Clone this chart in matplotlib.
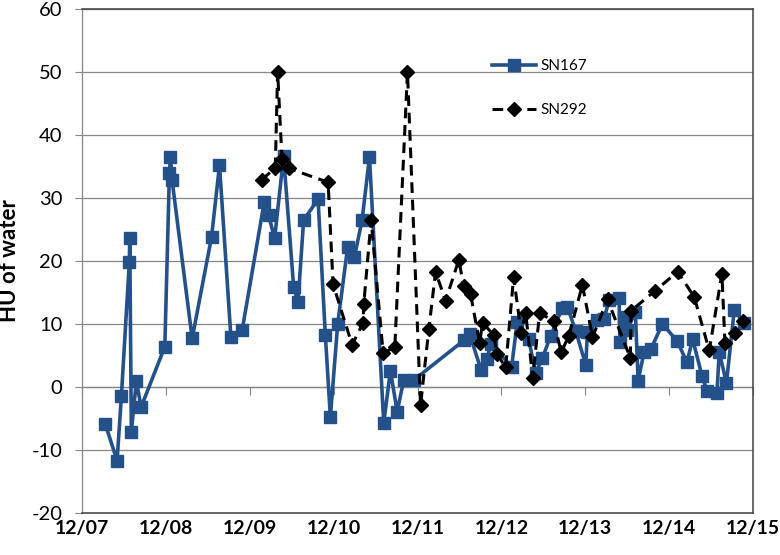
import numpy as np
import matplotlib
matplotlib.use('Agg')
import matplotlib.pyplot as plt

plt.rcParams['font.family'] = ['Lato', 'DejaVu Sans']
plt.rcParams['axes.unicode_minus'] = False

# decimal years
t167 = [2008.195, 2008.335, 2008.386, 2008.481, 2008.486, 2008.505, 2008.565, 2008.621,
        2008.904, 2008.959, 2008.971, 2008.991, 2009.230, 2009.461, 2009.556, 2009.692,
        2009.827, 2010.090, 2010.141, 2010.213, 2010.320, 2010.440, 2010.492, 2010.559,
        2010.731, 2010.818, 2010.878, 2010.965, 2011.084, 2011.164, 2011.256, 2011.344,
        2011.514, 2011.594, 2011.674, 2011.753, 2011.872, 2012.470, 2012.538, 2012.675,
        2012.749, 2012.788, 2013.039, 2013.105, 2013.242, 2013.326, 2013.405, 2013.505,
        2013.644, 2013.704, 2013.803, 2013.923, 2013.943, 2014.054, 2014.141, 2014.201,
        2014.320, 2014.329, 2014.380, 2014.412, 2014.514, 2014.547, 2014.619, 2014.699,
        2014.836, 2015.013, 2015.129, 2015.197, 2015.310, 2015.371, 2015.487, 2015.514,
        2015.600, 2015.694, 2015.813]
hu167 = [-5.9, -11.7, -1.5, 19.8, 23.6, -7.1, 1.0, -3.2,
         6.4, 34.0, 36.5, 32.8, 7.7, 23.8, 35.2, 7.9,
         9.1, 29.4, 27.3, 23.6, 36.6, 15.9, 13.5, 26.5,
         29.8, 8.2, -4.8, 10.0, 22.2, 20.6, 26.5, 36.5,
         -5.7, 2.6, -3.9, 1.1, 1.1, 7.4, 8.4, 2.7,
         4.5, 6.9, 3.2, 10.3, 7.6, 2.2, 4.6, 8.1,
         12.6, 12.7, 8.9, 3.5, 8.8, 10.7, 10.8, 13.8,
         14.2, 7.1, 11.1, 9.0, 11.9, 1.0, 5.6, 6.0,
         10.0, 7.3, 3.9, 7.6, 1.7, -0.7, -1.0, 5.6,
         0.6, 12.3, 10.1]

t292 = [2010.062, 2010.221, 2010.249, 2010.301, 2010.380, 2010.851, 2010.910, 2011.137,
        2011.268, 2011.276, 2011.364, 2011.507, 2011.646, 2011.797, 2011.953, 2012.052,
        2012.132, 2012.251, 2012.410, 2012.466, 2012.550, 2012.657, 2012.693, 2012.828,
        2012.860, 2012.968, 2013.063, 2013.153, 2013.206, 2013.290, 2013.373, 2013.541,
        2013.630, 2013.720, 2013.883, 2014.003, 2014.182, 2014.454, 2014.463, 2014.743,
        2015.018, 2015.216, 2015.395, 2015.546, 2015.582, 2015.698, 2015.803]
hu292 = [32.9, 34.8, 50.0, 36.2, 34.7, 32.5, 16.3, 6.7,
         10.2, 13.2, 26.5, 5.4, 6.3, 50.0, -2.9, 9.2,
         18.3, 13.7, 20.2, 16.0, 14.7, 7.0, 10.2, 8.2,
         5.3, 3.1, 17.5, 8.5, 11.8, 1.5, 11.7, 10.5,
         5.5, 8.1, 16.2, 7.9, 13.9, 4.6, 12.1, 15.2,
         18.3, 14.3, 5.8, 18.0, 7.0, 8.5, 10.5]

tick_years = [2007, 2008, 2009, 2010, 2011, 2012, 2013, 2014, 2015]
tick_labels = ['12/07', '12/08', '12/09', '12/10', '12/11', '12/12', '12/13', '12/14', '12/15']
ticks = [y + 11 / 12 for y in tick_years]

blue = '#245189'
grey = '#868686'
dark = '#404040'

fig = plt.figure(figsize=(7.8, 5.55), dpi=100)
ax = fig.add_axes([82 / 780, 42 / 555, 671 / 780, 504 / 555])

ax.plot(t167, hu167, color=blue, lw=2.6, marker='s', ms=9, label='SN167', zorder=3)
ax.plot(t292, hu292, color='black', lw=2.2, ls=(0, (3.5, 2.2)), marker='D', ms=7.5,
        label='SN292', zorder=4)

ax.set_xlim(ticks[0], ticks[-1])
ax.set_ylim(-20, 60)
ax.set_yticks(np.arange(-20, 61, 10))
ax.yaxis.grid(True, color=grey, lw=0.9)
ax.set_axisbelow(True)
ax.tick_params(axis='y', direction='out', length=5, color=grey, pad=9, labelsize=14.5)

ax.set_xticks(ticks)
ax.set_xticklabels(tick_labels, fontsize=14, fontweight='bold')
ax.tick_params(axis='x', length=0, pad=5)

for side in ['top', 'right', 'bottom']:
    ax.spines[side].set_color(dark)
    ax.spines[side].set_linewidth(1.1)
ax.spines['left'].set_color(grey)
ax.spines['left'].set_linewidth(0.9)

# axis line crossing at zero with tick marks
sec = ax.secondary_xaxis(0.25)
sec.set_xticks(ticks)
sec.tick_params(direction='out', length=6, color=grey, labelbottom=False)
sec.spines['bottom'].set_color(grey)
sec.spines['bottom'].set_linewidth(0.9)

ax.set_ylabel('HU of water', fontsize=16, fontweight='bold')
ax.yaxis.set_label_coords(-0.092, 0.5)

ax.legend(loc='upper left', bbox_to_anchor=(0.611, 0.901), frameon=False,
          fontsize=11, handlelength=2.9, handletextpad=0.3, labelspacing=2.0,
          borderpad=0, borderaxespad=0)

plt.savefig('out.png', dpi=100)
